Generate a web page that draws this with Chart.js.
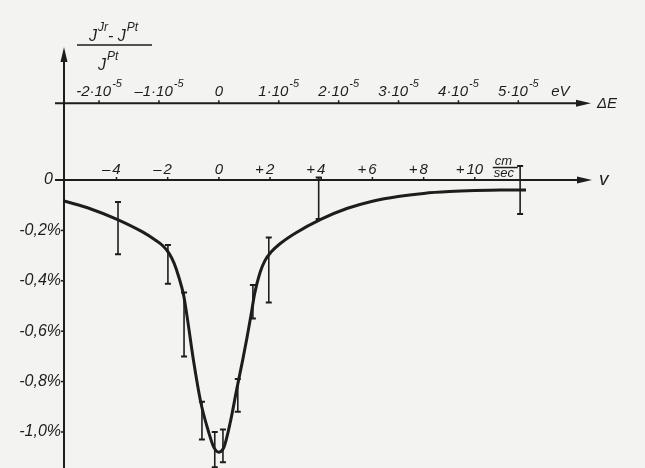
<!DOCTYPE html>
<html>
<head>
<meta charset="utf-8">
<script src="https://cdn.jsdelivr.net/npm/chart.js@4.4.1/dist/chart.umd.min.js"></script>
<style>
    html, body { margin: 0; padding: 0; background: #f3f3f1; }
    #wrap { width: 645px; height: 468px; }
</style>
</head>
<body>
<div id="wrap"><canvas id="chart" width="645" height="468"></canvas></div>
<script>
// Fitted absorption curve: velocity v (cm/sec) vs (J_Jr - J_Pt) / J_Pt in %
const curveV = [-6.05, -5, -4, -3, -2.5, -2.2, -1.95, -1.75, -1.55, -1.37, -1.2, -1.0, -0.7, -0.4, -0.2, 0, 0.2, 0.45, 0.7, 0.94, 1.1, 1.25, 1.4, 1.6, 1.8, 2.05, 2.4, 3, 4, 5, 6, 7, 8, 9, 10, 11, 12];
const curveY = [-0.083, -0.115, -0.155, -0.205, -0.237, -0.26, -0.29, -0.33, -0.39, -0.46, -0.57, -0.71, -0.885, -1.0, -1.06, -1.08, -1.06, -0.96, -0.83, -0.71, -0.625, -0.54, -0.45, -0.37, -0.32, -0.285, -0.252, -0.21, -0.155, -0.113, -0.084, -0.065, -0.053, -0.046, -0.042, -0.04, -0.04];

// Measured points, error bar ends
const pointV = [-3.94, -1.99, -1.36, -0.66, -0.16, 0.16, 0.74, 1.33, 1.95, 3.9, 11.77];
const pointHigh = [-0.087, -0.258, -0.446, -0.88, -1.0, -0.99, -0.79, -0.417, -0.228, 0.01, 0.056];
const pointLow = [-0.295, -0.412, -0.70, -1.03, -1.14, -1.12, -0.92, -0.55, -0.486, -0.155, -0.135];

// Axis ticks
const vTicks = [-4, -2, 0, 2, 4, 6, 8, 10];
const vTickSigns = ['–', '–', '', '+', '+', '+', '+', '+'];
const vTickNums = ['4', '2', '0', '2', '4', '6', '8', '10'];
const eTicks = [-2, -1, 0, 1, 2, 3, 4, 5];          // in units of 10^-5 eV
const eTickBase = ['-2·10', '–1·10', '0', '1·10', '2·10', '3·10', '4·10', '5·10'];
const eTickExp = ['-5', '-5', '', '-5', '-5', '-5', '-5', '-5'];
const yTicks = [0, -0.2, -0.4, -0.6, -0.8, -1.0];
const yTickLabels = ['0', '-0,2%', '-0,4%', '-0,6%', '-0,8%', '-1,0%'];

const vPerE = 2.34;       // cm/sec per 10^-5 eV
const eAxisLevel = 0.305; // where the energy axis sits on the y scale
const vMin = -6.05, vMax = 14.5;

const ink = '#1d1d1d';
const font = (size) => `italic ${size}px "Liberation Sans", "DejaVu Sans", sans-serif`;

function arrow(ctx, x1, y1, x2, y2) {
    const a = Math.atan2(y2 - y1, x2 - x1);
    ctx.beginPath();
    ctx.moveTo(x1, y1);
    ctx.lineTo(x2 - 10 * Math.cos(a), y2 - 10 * Math.sin(a));
    ctx.stroke();
    ctx.save();
    ctx.translate(x2, y2);
    ctx.rotate(a);
    ctx.beginPath();
    ctx.moveTo(0, 0);
    ctx.lineTo(-15, -3.5);
    ctx.lineTo(-15, 3.5);
    ctx.closePath();
    ctx.fill();
    ctx.restore();
}

// base text with a raised smaller part, returns total width
function supText(ctx, x, y, base, sup, size, align) {
    ctx.font = font(size);
    const wb = ctx.measureText(base).width;
    ctx.font = font(size - 4);
    const ws = sup ? ctx.measureText(sup).width + 1 : 0;
    let left = x;
    if (align === 'center') left = x - (wb + ws) / 2;
    ctx.textAlign = 'left';
    ctx.font = font(size);
    ctx.fillText(base, left, y);
    if (sup) {
        ctx.font = font(size - 4);
        ctx.fillText(sup, left + wb + 1, y - size * 0.6);
    }
    return wb + ws;
}

const sketch = {
    id: 'sketch',
    beforeDraw(chart) {
        const { ctx, width, height } = chart;
        ctx.save();
        ctx.fillStyle = '#f3f3f1';
        ctx.fillRect(0, 0, width, height);
        ctx.restore();
    },
    beforeDatasetsDraw(chart) {
        const { ctx, chartArea, height, scales: { x, y, e } } = chart;
        ctx.save();
        ctx.strokeStyle = ink;
        ctx.fillStyle = ink;
        ctx.lineWidth = 2;
        ctx.textBaseline = 'alphabetic';

        const axisX = chartArea.left;
        const y0 = y.getPixelForValue(0);
        const yE = y.getPixelForValue(eAxisLevel);

        // vertical axis
        arrow(ctx, axisX, height, axisX, chartArea.top);
        // velocity axis
        arrow(ctx, axisX - 9, y0, chartArea.right + 2, y0);
        // energy axis
        arrow(ctx, axisX - 9, yE, chartArea.right + 1, yE);

        // velocity ticks
        ctx.lineWidth = 1.5;
        vTicks.forEach((v, i) => {
            const px = x.getPixelForValue(v);
            ctx.beginPath();
            ctx.moveTo(px, y0);
            ctx.lineTo(px, y0 - 3);
            ctx.stroke();
            ctx.font = font(15);
            ctx.textAlign = 'center';
            ctx.fillText(vTickNums[i], px, y0 - 6);
            if (vTickSigns[i]) {
                const w = ctx.measureText(vTickNums[i]).width;
                ctx.textAlign = 'right';
                ctx.fillText(vTickSigns[i], px - w / 2 - 2, y0 - 6);
            }
        });
        // cm/sec unit
        const ux = x.getPixelForValue(10.7);
        ctx.font = font(13);
        ctx.textAlign = 'left';
        ctx.fillText('cm', ux + 2, y0 - 15);
        ctx.fillText('sec', ux + 1, y0 - 3);
        ctx.beginPath();
        ctx.moveTo(ux, y0 - 12.5);
        ctx.lineTo(ux + 25, y0 - 12.5);
        ctx.stroke();

        // energy ticks
        eTicks.forEach((ev, i) => {
            const px = e.getPixelForValue(ev);
            ctx.beginPath();
            ctx.moveTo(px, yE);
            ctx.lineTo(px, yE - 3);
            ctx.stroke();
            supText(ctx, px, yE - 7, eTickBase[i], eTickExp[i], 15, 'center');
        });
        ctx.font = font(15);
        ctx.textAlign = 'left';
        ctx.fillText('eV', e.getPixelForValue(5.55), yE - 7);
        ctx.fillText('\u0394E', chartArea.right + 7, yE + 5);
        ctx.font = font(19);
        ctx.fillText('v', chartArea.right + 9, y0 + 5);

        // y ticks
        ctx.textBaseline = 'middle';
        yTicks.forEach((t, i) => {
            const py = y.getPixelForValue(t);
            ctx.font = font(16);
            ctx.textAlign = 'right';
            if (t === 0) {
                ctx.fillText(yTickLabels[i], axisX - 11, py);
            } else {
                ctx.fillText(yTickLabels[i], axisX - 3, py);
                ctx.beginPath();
                ctx.moveTo(axisX - 3, py);
                ctx.lineTo(axisX, py);
                ctx.stroke();
            }
        });

        // axis title: (J^Jr - J^Pt) / J^Pt
        ctx.textBaseline = 'alphabetic';
        let tx = axisX + 25;
        tx += supText(ctx, tx, 41, 'J', 'Jr', 16, 'left');
        tx += supText(ctx, tx, 41, '- J', 'Pt', 16, 'left');
        ctx.lineWidth = 1.5;
        ctx.beginPath();
        ctx.moveTo(axisX + 13, 45);
        ctx.lineTo(axisX + 88, 45);
        ctx.stroke();
        supText(ctx, axisX + 34, 70, 'J', 'Pt', 16, 'left');
        ctx.restore();
    },
    afterDatasetsDraw(chart) {
        const { ctx, scales: { x, y } } = chart;
        ctx.save();
        ctx.strokeStyle = ink;
        pointV.forEach((v, i) => {
            const px = x.getPixelForValue(v);
            const top = y.getPixelForValue(pointHigh[i]);
            const bot = y.getPixelForValue(pointLow[i]);
            ctx.lineWidth = 1.6;
            ctx.beginPath();
            ctx.moveTo(px, top);
            ctx.lineTo(px, bot);
            ctx.stroke();
            ctx.lineWidth = 2;
            ctx.beginPath();
            ctx.moveTo(px - 3, top);
            ctx.lineTo(px + 3, top);
            ctx.moveTo(px - 3, bot);
            ctx.lineTo(px + 3, bot);
            ctx.stroke();
        });
        ctx.restore();
    }
};

const config = {
    type: 'line',
    data: {
        datasets: [{
            label: 'fit',
            data: curveV.map((v, i) => ({ x: v, y: curveY[i] })),
            borderColor: ink,
            borderWidth: 3,
            pointRadius: 0,
            cubicInterpolationMode: 'monotone',
            fill: false,
            clip: false
        }, {
            label: 'measured',
            data: pointV.map((v, i) => ({ x: v, y: (pointHigh[i] + pointLow[i]) / 2 })),
            showLine: false,
            pointRadius: 0,
            clip: false
        }]
    },
    options: {
        responsive: false,
        devicePixelRatio: 1,
        animation: false,
        layout: { padding: { left: 64, right: 55, top: 47, bottom: 2 } },
        plugins: { legend: { display: false }, tooltip: { enabled: false } },
        scales: {
            x: { type: 'linear', min: vMin, max: vMax, display: false },
            e: { type: 'linear', axis: 'x', min: vMin / vPerE, max: vMax / vPerE, display: false },
            y: { type: 'linear', min: -1.135, max: 0.528, display: false }
        }
    },
    plugins: [sketch]
};

new Chart(document.getElementById('chart').getContext('2d'), config);
</script>
</body>
</html>
